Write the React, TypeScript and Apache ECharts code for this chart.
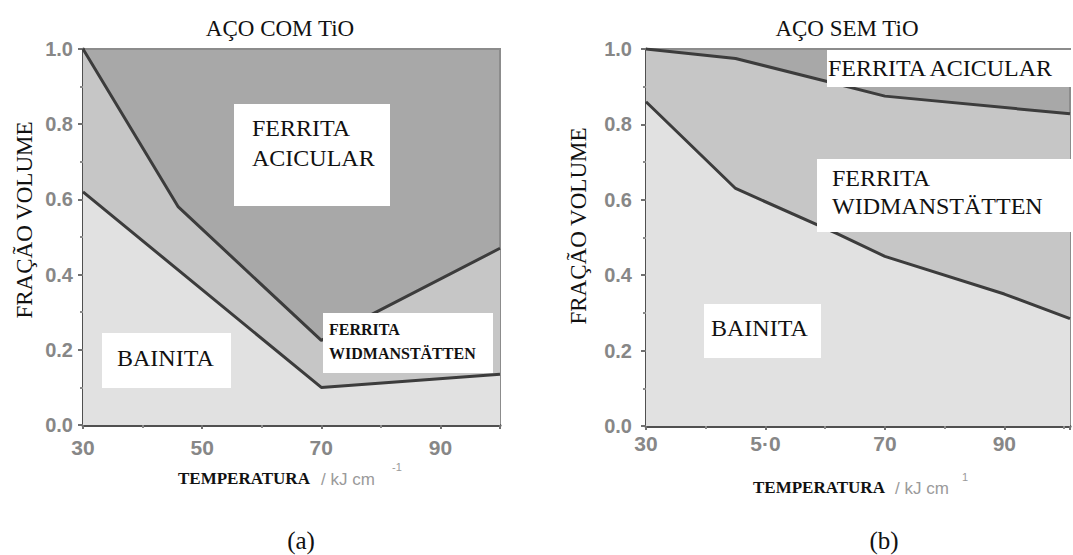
import React, { useEffect, useRef } from 'react';
import * as echarts from 'echarts';

// ---- data ----
const tempAUpper = [30, 46, 70, 100];
const fracAUpper = [1.0, 0.58, 0.225, 0.47];
const tempALower = [30, 70, 100];
const fracALower = [0.62, 0.1, 0.135];

const tempBUpper = [30, 45, 60, 70, 101];
const fracBUpper = [1.0, 0.975, 0.915, 0.875, 0.828];
const tempBLower = [30, 45, 62, 70, 90, 101];
const fracBLower = [0.86, 0.63, 0.51, 0.45, 0.35, 0.285];

const xTickValues = [30, 50, 70, 90];
const xTickLabelsA = ['30', '50', '70', '90'];
const xTickLabelsB = ['30', '5·0', '70', '90'];

const titleA = 'AÇO COM TiO';
const titleB = 'AÇO SEM TiO';
const yName = 'FRAÇÃO VOLUME';
const xName = 'TEMPERATURA';
const xUnit = '/ kJ cm';

const C_BAIN = '#e1e1e1';
const C_WID = '#c6c6c6';
const C_ACI = '#a8a8a8';
const C_LINE = '#3c3c3c';
const SERIF = '"Liberation Serif", "Times New Roman", serif';
const SANS = '"Liberation Sans", Arial, sans-serif';

const zip = (xs: number[], ys: number[]) => xs.map((x, i) => [x, ys[i]]);

function xAxisCfg(gi: number, labels: string[], margin: number, max: number) {
  return {
    type: 'value',
    gridIndex: gi,
    min: 30,
    max,
    interval: 20,
    axisLine: { show: true, lineStyle: { color: '#505050', width: 3 } },
    axisTick: { show: true, inside: false, length: 4, lineStyle: { color: '#707070', width: 2 } },
    minorTick: { show: true, splitNumber: 2, length: 3, lineStyle: { color: '#8a8a8a', width: 2 } },
    splitLine: { show: false },
    axisLabel: {
      margin,
      color: '#878787',
      fontFamily: SANS,
      fontWeight: 'bold',
      fontSize: 21,
      formatter: (v: number) => {
        const i = xTickValues.indexOf(v);
        return i >= 0 ? labels[i] : '';
      },
    },
  };
}

function yAxisCfg(gi: number, margin: number) {
  return {
    type: 'value',
    gridIndex: gi,
    min: 0,
    max: 1,
    interval: 0.2,
    axisLine: { show: true, lineStyle: { color: '#505050', width: 3 } },
    axisTick: { show: true, inside: false, length: 5, lineStyle: { color: '#707070', width: 2 } },
    minorTick: { show: true, splitNumber: 2, length: 3, lineStyle: { color: '#8a8a8a', width: 2 } },
    splitLine: { show: false },
    axisLabel: {
      margin,
      color: '#878787',
      fontFamily: SANS,
      fontWeight: 'bold',
      fontSize: 20,
      formatter: (v: number) => v.toFixed(1),
    },
  };
}

function boundary(xi: number, data: number[][], fill: string, z: number) {
  return {
    type: 'line',
    xAxisIndex: xi,
    yAxisIndex: xi,
    data,
    symbol: 'none',
    z,
    lineStyle: { color: C_LINE, width: 3 },
    areaStyle: { color: fill, opacity: 1 },
  };
}

function box(x: number, y: number, w: number, h: number) {
  return { type: 'rect', shape: { x, y, width: w, height: h }, style: { fill: '#ffffff' }, z: 100 };
}

function txt(x: number, y: number, text: string, size: number, opts: any = {}) {
  return {
    type: 'text',
    x,
    y,
    z: 101,
    rotation: opts.rotation || 0,
    style: {
      text,
      fontFamily: opts.family || SERIF,
      fontSize: size,
      fontWeight: opts.weight || 'normal',
      fill: opts.color || '#111111',
      textAlign: opts.align || 'left',
      textVerticalAlign: 'middle',
    },
  };
}

export default function App() {
  const ref = useRef<HTMLDivElement>(null);
  useEffect(() => {
    if (!ref.current) return;
    const chart = echarts.init(ref.current, undefined, { renderer: 'svg' });
    chart.setOption({
      animation: false,
      backgroundColor: '#ffffff',
      grid: [
        {
          left: 83, top: 49, right: 573, bottom: 130, show: true,
          backgroundColor: C_ACI, borderColor: '#8c8c8c', borderWidth: 2,
        },
        {
          left: 646, top: 49, right: -3, bottom: 129, show: true,
          backgroundColor: C_ACI, borderColor: '#8c8c8c', borderWidth: 2,
        },
      ],
      xAxis: [xAxisCfg(0, xTickLabelsA, 12, 100), xAxisCfg(1, xTickLabelsB, 7, 101)],
      yAxis: [yAxisCfg(0, 10), yAxisCfg(1, 14)],
      series: [
        boundary(0, zip(tempAUpper, fracAUpper), C_WID, 2),
        boundary(0, zip(tempALower, fracALower), C_BAIN, 3),
        boundary(1, zip(tempBUpper, fracBUpper), C_WID, 2),
        boundary(1, zip(tempBLower, fracBLower), C_BAIN, 3),
      ],
      graphic: [
        // titles
        txt(280, 28, titleA, 23, { align: 'center' }),
        txt(847, 28, titleB, 23, { align: 'center' }),
        // y names
        txt(24, 220, yName, 23, { align: 'center', rotation: Math.PI / 2 }),
        txt(578, 226, yName, 23, { align: 'center', rotation: Math.PI / 2 }),
        // x names
        txt(178, 478, xName, 17, { weight: 'bold' }),
        txt(321, 479, xUnit, 17, { family: SANS, color: '#9a9a9a' }),
        txt(392, 467, '-1', 11, { family: SANS, color: '#9a9a9a' }),
        txt(753, 487, xName, 17, { weight: 'bold' }),
        txt(895, 488, xUnit, 17, { family: SANS, color: '#9a9a9a' }),
        txt(962, 477, '1', 11, { family: SANS, color: '#9a9a9a' }),
        // panel letters
        txt(301, 540, '(a)', 25, { align: 'center' }),
        txt(884, 540, '(b)', 25, { align: 'center' }),
        // left panel labels
        box(234, 104, 156, 102),
        txt(252, 128, 'FERRITA', 24),
        txt(252, 158, 'ACICULAR', 24),
        box(102, 333, 129, 55),
        txt(117, 358, 'BAINITA', 24),
        box(323, 313, 170, 60),
        txt(329, 329, 'FERRITA', 16, { weight: 'bold' }),
        txt(329, 353, 'WIDMANSTÄTTEN', 16, { weight: 'bold' }),
        // right panel labels
        box(827, 50, 250, 37),
        txt(828, 68, 'FERRITA ACICULAR', 24),
        box(817, 159, 260, 73),
        txt(832, 178, 'FERRITA', 24),
        txt(832, 206, 'WIDMANSTÄTTEN', 24),
        box(704, 304, 117, 54),
        txt(711, 328, 'BAINITA', 24),
      ],
    });
    return () => chart.dispose();
  }, []);
  return (
    <div
      ref={ref}
      style={{ position: 'fixed', left: 0, top: 0, width: 1073, height: 555 }}
    />
  );
}
